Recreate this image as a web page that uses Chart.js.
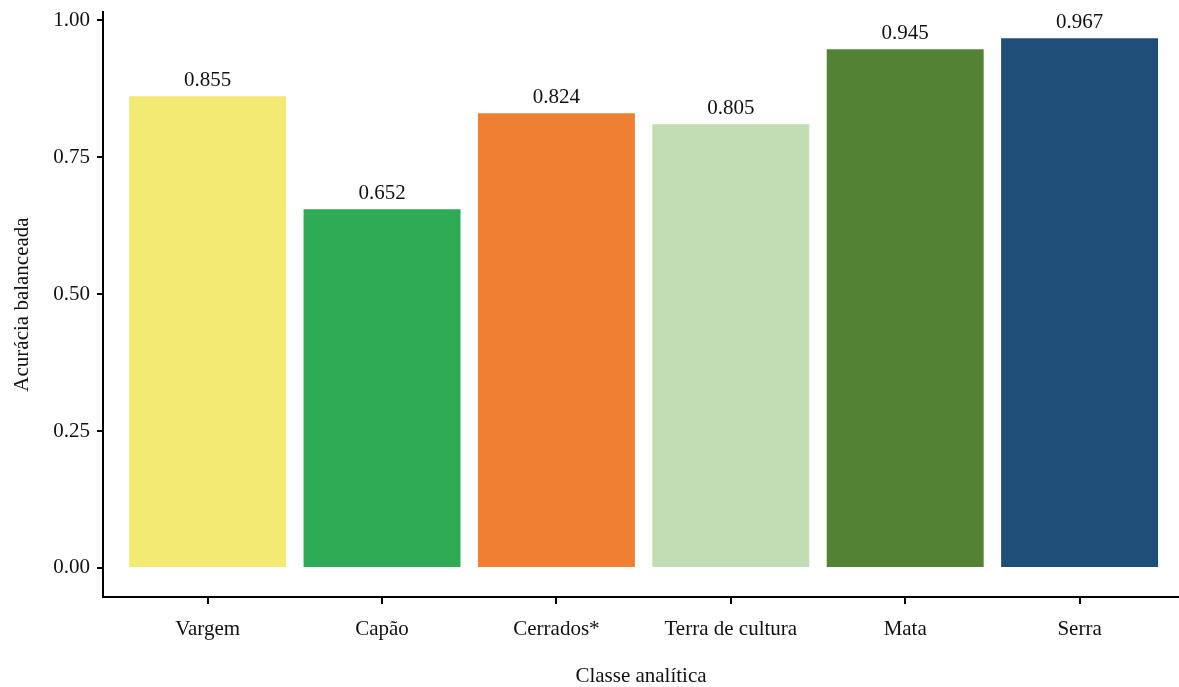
<!DOCTYPE html>
<html>
<head>
<meta charset="utf-8">
<script src="https://cdn.jsdelivr.net/npm/chart.js@4/dist/chart.umd.min.js"></script>
<style>
  html, body { margin: 0; padding: 0; background: #fff; }
  #wrap { width: 1179px; height: 687px; }
</style>
</head>
<body>
<div id="wrap"><canvas id="chart"></canvas></div>
<script>
const categories = ["Vargem", "Capão", "Cerrados*", "Terra de cultura", "Mata", "Serra"];
// bar heights as drawn, and the printed labels
const accuracy = [0.861, 0.655, 0.830, 0.810, 0.947, 0.967];
const accuracyLabels = ["0.855", "0.652", "0.824", "0.805", "0.945", "0.967"];
const yTicks = [0, 0.25, 0.5, 0.75, 1.0];
const barColors = ["#F3EA73", "#2EAA55", "#EE7F33", "#C2DDB3", "#548235", "#1F4E79"];

const serif = "'Liberation Serif', 'Times New Roman', serif";

// labels on top of bars
const barLabels = {
    id: "barLabels",
    afterDatasetsDraw(chart) {
        const ctx = chart.ctx;
        const meta = chart.getDatasetMeta(0);
        ctx.save();
        ctx.font = "21px " + serif;
        ctx.fillStyle = "#111";
        ctx.textAlign = "center";
        ctx.textBaseline = "bottom";
        meta.data.forEach((bar, i) => {
            ctx.fillText(accuracyLabels[i], bar.x, bar.y - 5);
        });
        ctx.restore();
    }
};

new Chart(document.getElementById("chart"), {
    type: "bar",
    data: {
        datasets: [{
            data: accuracy.map((v, i) => ({ x: i, y: v })),
            backgroundColor: barColors,
            borderWidth: 0,
            barPercentage: 0.9,
            categoryPercentage: 1.0
        }]
    },
    options: {
        responsive: true,
        maintainAspectRatio: false,
        animation: false,
        layout: { padding: { top: 12, right: 0, left: 0, bottom: 0 } },
        plugins: {
            legend: { display: false },
            tooltip: { enabled: false }
        },
        scales: {
            x: {
                type: "linear",
                offset: false,
                min: -0.6,
                max: 5.57,
                afterBuildTicks: axis => { axis.ticks = categories.map((c, i) => ({ value: i })); },
                afterFit: axis => { axis.height = 90; axis.paddingLeft = 0; axis.paddingRight = 0; },
                ticks: {
                    callback: v => categories[v],
                    color: "#111",
                    font: { family: serif, size: 21 },
                    padding: 13,
                    maxRotation: 0,
                    autoSkip: false
                },
                grid: { offset: false, drawOnChartArea: false, drawTicks: true, tickLength: 7, color: "#000", lineWidth: 2 },
                border: { color: "#000", width: 2 },
                title: {
                    display: true,
                    text: "Classe analítica",
                    color: "#111",
                    font: { family: serif, size: 21, lineHeight: 1 },
                    padding: { top: 1, bottom: 0 }
                }
            },
            y: {
                min: -0.053,
                max: 1.015,
                afterBuildTicks: axis => { axis.ticks = yTicks.map(v => ({ value: v })); },
                afterFit: axis => { axis.width = 103; axis.paddingTop = 0; axis.paddingBottom = 0; },
                ticks: {
                    callback: v => v.toFixed(2),
                    color: "#111",
                    font: { family: serif, size: 21 },
                    padding: 7
                },
                grid: { drawOnChartArea: false, drawTicks: true, tickLength: 6, color: "#000", lineWidth: 2 },
                border: { color: "#000", width: 2 },
                title: {
                    display: true,
                    text: "Acurácia balanceada",
                    color: "#111",
                    font: { family: serif, size: 21, lineHeight: 1 },
                    padding: { top: 12, bottom: 0 }
                }
            }
        }
    },
    plugins: [barLabels]
});
</script>
</body>
</html>
